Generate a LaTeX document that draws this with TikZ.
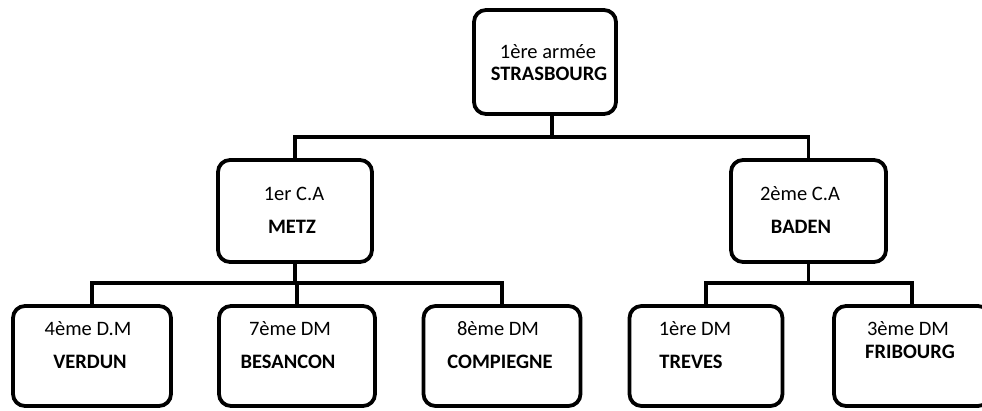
\documentclass[tikz,border=0pt]{standalone}
\usepackage{fontspec}
\setmainfont{Carlito}
\begin{document}
\begin{tikzpicture}[x=1pt,y=-1pt,
  box/.style={draw=black, line width=3.8pt, rounded corners=12pt, inner sep=0pt, fill=white},
  conn/.style={draw=black, line width=3.8pt},
  lbl/.style={anchor=base, inner sep=0pt, font=\fontsize{20.5}{24}\selectfont},
  blbl/.style={lbl, font=\fontsize{20.5}{24}\selectfont\bfseries}
]
\clip (0,0) rectangle (982,410);
\fill[white] (0,0) rectangle (982,410);

% connectors
\coordinate (j1) at (552,137);
\coordinate (j2) at (297,283);
\coordinate (j3) at (809,283);

% boxes
\node[box, minimum width=142pt, minimum height=104pt] (top) at (545,62) {};
\node[box, minimum width=154pt, minimum height=102pt] (ca1) at (295,211) {};
\node[box, minimum width=155pt, minimum height=102pt] (ca2) at (808.5,211) {};
\node[box, minimum width=158pt, minimum height=100pt] (b1) at (92,356) {};
\node[box, minimum width=156pt, minimum height=100pt] (b2) at (297,356) {};
\node[box, minimum width=157pt, minimum height=100pt] (b3) at (502,356) {};
\node[box, minimum width=153pt, minimum height=100pt] (b4) at (706,356) {};
\node[box, minimum width=156pt, minimum height=100pt] (b5) at (912,356) {};

\draw[conn] (top.south -| j1) -- (j1);
\draw[conn] (ca1.north) |- (j1) -| (ca2.north);
\draw[conn] (ca1.south) -- (ca1.south |- j2);
\draw[conn] (b1.north) |- (j2) -| (b3.north);
\draw[conn] (b2.north) -- (b2.north |- j2);
\draw[conn] (ca2.south) -- (ca2.south |- j3);
\draw[conn] (b4.north) |- (j3) -| (b5.north);

% texts
\node[lbl]  (t0a) at (548,58) {1ère armée};
\node[blbl] (t0b) at (549,80) {STRASBOURG};
\node[lbl]  (t1a) at (294,200) {1er C.A};
\node[blbl] (t1b) at (292,233) {METZ};
\node[lbl]  (t2a) at (800,200) {2ème C.A};
\node[blbl] (t2b) at (801,233) {BADEN};
\node[lbl]  (t3a) at (88,335) {4ème D.M};
\node[blbl] (t3b) at (90,368) {VERDUN};
\node[lbl]  (t4a) at (290,335) {7ème DM};
\node[blbl] (t4b) at (288,368) {BESANCON};
\node[lbl]  (t5a) at (498,335) {8ème DM};
\node[blbl] (t5b) at (500,368) {COMPIEGNE};
\node[lbl]  (t6a) at (695,335) {1ère DM};
\node[blbl] (t6b) at (691,368) {TREVES};
\node[lbl]  (t7a) at (908,335) {3ème DM};
\node[blbl] (t7b) at (910,358) {FRIBOURG};
\end{tikzpicture}
\end{document}
